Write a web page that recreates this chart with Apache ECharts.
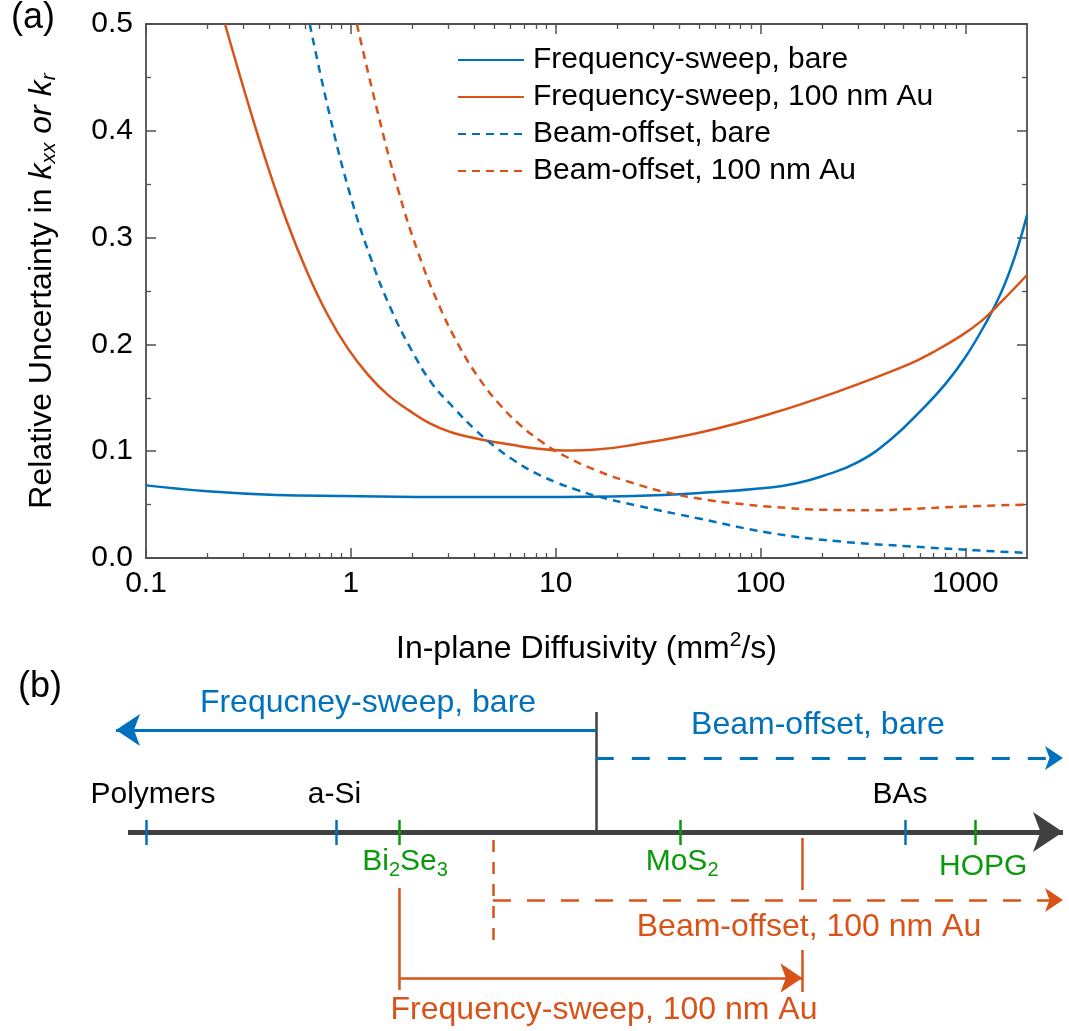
<!DOCTYPE html>
<html>
<head>
<meta charset="utf-8">
<script src="https://cdn.jsdelivr.net/npm/echarts@6/dist/echarts.min.js"></script>
<style>html,body{margin:0;padding:0;background:#fff}#c{width:1069px;height:1031px}</style>
</head>
<body>
<div id="c"></div>
<script>
// ===== DATA (a): [in-plane diffusivity (mm^2/s), relative uncertainty] =====
const seriesNames = ['Frequency-sweep, bare', 'Frequency-sweep, 100 nm Au', 'Beam-offset, bare', 'Beam-offset, 100 nm Au'];
const freqSweepBare = [[0.1,0.068],[0.2,0.0625],[0.43,0.059],[0.93,0.058],[3,0.057],[8,0.057],[24,0.058],[52,0.061],[112,0.066],[150,0.070],[200,0.0766],[294,0.089],[432,0.111],[636,0.142],[800,0.163],[1000,0.188],[1250,0.219],[1500,0.249],[1750,0.283],[2000,0.321]];
const freqSweepAu = [[0.243,0.5],[0.306,0.434],[0.385,0.372],[0.485,0.316],[0.611,0.268],[0.769,0.228],[0.968,0.196],[1.22,0.171],[1.53,0.152],[1.93,0.138],[2.43,0.126],[3.06,0.118],[3.85,0.113],[4.85,0.109],[6.11,0.106],[7.69,0.103],[11,0.1006],[15.8,0.1015],[24,0.106],[52,0.118],[112,0.135],[240,0.156],[525,0.181],[700,0.193],[933,0.207],[1200,0.222],[1500,0.240],[2000,0.265]];
const beamOffsetBare = [[0.63,0.5],[0.79,0.414],[1.0,0.338],[1.26,0.279],[1.58,0.232],[2.0,0.193],[2.5,0.163],[3.2,0.140],[4.0,0.121],[5.0,0.105],[6.3,0.091],[7.9,0.080],[10,0.071],[12.6,0.064],[15.8,0.058],[25,0.049],[50,0.037],[112,0.0234],[240,0.0156],[525,0.011],[1120,0.0072],[2000,0.0047]];
const beamOffsetAu = [[1.07,0.5],[1.35,0.418],[1.70,0.345],[2.14,0.285],[2.69,0.237],[3.39,0.198],[4.27,0.167],[5.37,0.143],[6.76,0.124],[8.51,0.109],[10.7,0.097],[15.8,0.082],[24,0.070],[34.7,0.0615],[52.5,0.055],[75.9,0.051],[112,0.048],[200,0.0452],[355,0.0447],[525,0.0458],[933,0.048],[2000,0.050]];
const xTickValues = [0.1, 1, 10, 100, 1000];
const xTickLabels = ['0.1', '1', '10', '100', '1000'];
const xMinorTickValues = [0.2,0.3,0.4,0.5,0.6,0.7,0.8,0.9,2,3,4,5,6,7,8,9,20,30,40,50,60,70,80,90,200,300,400,500,600,700,800,900];
const yTickLabels = ['0.0', '0.1', '0.2', '0.3', '0.4', '0.5'];

// ===== DATA (b): materials and measurable ranges (mm^2/s) =====
const materials = ['Polymers', 'a-Si', 'Bi2Se3', 'MoS2', 'BAs', 'HOPG'];
const materialDiffusivity = [0.1, 0.85, 1.72, 40.5, 508, 1117];
const materialIsSample = [false, false, true, true, false, true];
const rangeLabels = ['Frequcney-sweep, bare', 'Beam-offset, bare', 'Beam-offset, 100 nm Au', 'Frequency-sweep, 100 nm Au'];
const freqBareUpper = 15.7;
const beamAuLower = 4.94;
const freqAuRange = [1.72, 160];

// ===== STYLE / LAYOUT =====
const FONT = '"Liberation Sans", Arial, Helvetica, sans-serif';
const BLUE = '#0072BD', ORANGE = '#D95319', GREEN = '#0A990A', DARK = '#404040', AXIS = '#505050';
const G = { left: 146, top: 24, right: 1027, bottom: 558 };
const XMIN = 0.1, XMAX = 2000;
const PXD = (G.right - G.left) / Math.log10(XMAX / XMIN);       // px per decade
const BMIN = 0.07, BMAX = 3000;                                    // diagram (b) extent
const g2left = G.left - PXD * Math.log10(XMIN / BMIN);
const g2width = PXD * Math.log10(BMAX / BMIN);
const atPx = px => XMIN * Math.pow(10, (px - G.left) / PXD);      // layout helper (diagram only)
const ROW = { bareText: 2.3, bareArrow: 5.0, divTop: 3.2, boBareText: 4.5, boBareArrow: 7.8,
  matTop: 11.5, axis: 15.2, tickTop: 14.0, tickBot: 16.5, matBot: 18.2, hopg: 18.7,
  auDashTop: 16.0, auDashBot: 26.2, auDashArrow: 22.0, boAuText: 24.7,
  fsUpTop: 15.8, fsUpBot: 21.0, fsLowTop: 27.0, fsLowBot: 31.2, fsLeftTop: 20.8, fsLeftBot: 31.0,
  fsArrow: 29.8, fsText: 33.0 };

const tipRight = atPx(1063), tipLeft = atPx(116);

function lineSeries(name, data, color, dashed) {
  return { name, type: 'line', xAxisIndex: 0, yAxisIndex: 0, data, symbol: 'none', showSymbol: false,
    smooth: 0.45, clip: true, z: 3,
    lineStyle: { color, width: 2.5, type: dashed ? [8, 6] : 'solid' }, itemStyle: { color } };
}
function seg(x1, y1, x2, y2) { return { coords: [[x1, y1], [x2, y2]] }; }
function linesSeries(data, color, width, type, arrow) {
  return { type: 'lines', coordinateSystem: 'cartesian2d', xAxisIndex: 4, yAxisIndex: 2, silent: true,
    clip: false, data, symbol: arrow ? ['none', 'arrow'] : ['none', 'none'], symbolSize: arrow || 1,
    lineStyle: { color, width, type, opacity: 1, curveness: 0 }, z: 5 };
}
const subRich = (size, color) => ({
  n: { fontSize: size, color, fontFamily: FONT, lineHeight: 36, opacity: 1 },
  s: { fontSize: Math.round(size * 0.66), color, fontFamily: FONT, lineHeight: Math.round(size * 0.66), verticalAlign: 'bottom', opacity: 1 }
});
function chemLabel(name) {
  const m = { 'Bi2Se3': '{n|Bi}{s|2}{n|Se}{s|3}', 'MoS2': '{n|MoS}{s|2}' };
  return m[name] || ('{n|' + name + '}');
}

// diagram text items
const matOffsets = [7, -2, 6, 2, -5, 8];
const textItems = [];
materials.forEach((m, i) => {
  const below = materialIsSample[i];
  textItems.push({ value: [materialDiffusivity[i], below ? (m === 'HOPG' ? ROW.hopg : ROW.matBot) : ROW.matTop],
    label: { formatter: chemLabel(m), offset: [matOffsets[i], 0], opacity: 1, rich: subRich(30, below ? GREEN : '#000') } });
});
const rangeAnchors = [[atPx(368), ROW.bareText, BLUE], [atPx(818), ROW.boBareText, BLUE], [atPx(809), ROW.boAuText, ORANGE], [atPx(604), ROW.fsText, ORANGE]];
rangeLabels.forEach((t, i) => {
  textItems.push({ value: [rangeAnchors[i][0], rangeAnchors[i][1]],
    label: { formatter: '{n|' + t + '}', opacity: 1, rich: subRich(32, rangeAnchors[i][2]) } });
});

const tickTextStyle = { fontSize: 30, color: '#000', fontFamily: FONT };
const baseX = { type: 'log', logBase: 10, gridIndex: 0, min: XMIN, max: XMAX, splitLine: { show: false } };
const axisLineStyle = { color: AXIS, width: 1.8 };

const option = {
  animation: false,
  backgroundColor: '#fff',
  title: [
    { text: '(a)', left: 11, top: 0, padding: 0, textStyle: { fontSize: 36, fontWeight: 'normal', color: '#000', fontFamily: FONT } },
    { text: '(b)', left: 18, top: 669, padding: 0, textStyle: { fontSize: 36, fontWeight: 'normal', color: '#000', fontFamily: FONT } }
  ],
  legend: {
    data: seriesNames, orient: 'vertical', left: 457, top: 43, padding: 0, itemGap: 3,
    itemWidth: 66, itemHeight: 14, selectedMode: false,
    itemStyle: { opacity: 0 },
    textStyle: { fontSize: 30, color: '#000', fontFamily: FONT, lineHeight: 34, padding: [0, 0, 0, 4] }
  },
  grid: [
    { left: G.left, top: G.top, width: G.right - G.left, height: G.bottom - G.top, outerBoundsMode: 'none', containLabel: false },
    { left: g2left, top: 680, width: g2width, height: 350, outerBoundsMode: 'none', containLabel: false }
  ],
  xAxis: [
    Object.assign({}, baseX, { position: 'bottom',
      axisLine: { show: true, lineStyle: axisLineStyle },
      axisTick: { show: true, inside: true, length: 10, customValues: xTickValues, lineStyle: { color: AXIS, width: 1.5 } },
      axisLabel: { show: true, customValues: xTickValues, margin: 11, ...tickTextStyle,
        formatter: v => { let b = 0, d = 1e9; xTickValues.forEach((t, i) => { const e = Math.abs(Math.log10(t) - Math.log10(v)); if (e < d) { d = e; b = i; } }); return xTickLabels[b]; } },
      name: '{n|In-plane Diffusivity (mm}{p|2}{n|/s)}', nameLocation: 'middle', nameGap: 72,
      nameTextStyle: { rich: { n: { fontSize: 32, color: '#000', fontFamily: FONT, lineHeight: 38 },
        p: { fontSize: 21, color: '#000', fontFamily: FONT, lineHeight: 26, verticalAlign: 'top' } } } }),
    Object.assign({}, baseX, { position: 'bottom', axisLine: { show: false },
      axisTick: { show: true, inside: true, length: 5, customValues: xMinorTickValues, lineStyle: { color: AXIS, width: 1.3 } },
      axisLabel: { show: false } }),
    Object.assign({}, baseX, { position: 'top', axisLine: { show: true, lineStyle: axisLineStyle },
      axisTick: { show: true, inside: true, length: 10, customValues: xTickValues, lineStyle: { color: AXIS, width: 1.5 } },
      axisLabel: { show: false } }),
    Object.assign({}, baseX, { position: 'top', axisLine: { show: false },
      axisTick: { show: true, inside: true, length: 5, customValues: xMinorTickValues, lineStyle: { color: AXIS, width: 1.3 } },
      axisLabel: { show: false } }),
    { type: 'log', logBase: 10, gridIndex: 1, min: BMIN, max: BMAX, show: false }
  ],
  yAxis: [
    { type: 'value', gridIndex: 0, position: 'left', min: 0, max: 0.5, interval: 0.1,
      axisLine: { show: true, lineStyle: axisLineStyle }, splitLine: { show: false },
      axisTick: { show: true, inside: true, length: 10, lineStyle: { color: AXIS, width: 1.5 } },
      minorTick: { show: true, splitNumber: 2, length: 5, lineStyle: { color: AXIS, width: 1.3 } },
      axisLabel: { margin: 13, ...tickTextStyle, formatter: v => yTickLabels[Math.round(v * 10)] },
      name: '{n|Relative Uncertainty in }{i|k}{s|xx}{i| or k}{s|r}', nameLocation: 'middle', nameGap: 86,
      nameTextStyle: { rich: {
        n: { fontSize: 32, color: '#000', fontFamily: FONT, lineHeight: 36 },
        i: { fontSize: 32, color: '#000', fontFamily: FONT, fontStyle: 'italic', lineHeight: 36 },
        s: { fontSize: 21, color: '#000', fontFamily: FONT, fontStyle: 'italic', lineHeight: 21, verticalAlign: 'bottom' } } } },
    { type: 'value', gridIndex: 0, position: 'right', min: 0, max: 0.5, interval: 0.1,
      axisLine: { show: true, lineStyle: axisLineStyle }, splitLine: { show: false },
      axisTick: { show: true, inside: true, length: 10, lineStyle: { color: AXIS, width: 1.5 } },
      minorTick: { show: true, splitNumber: 2, length: 5, lineStyle: { color: AXIS, width: 1.3 } },
      axisLabel: { show: false } },
    { type: 'value', gridIndex: 1, min: 0, max: 35, inverse: true, show: false }
  ],
  series: [
    lineSeries(seriesNames[0], freqSweepBare, BLUE, false),
    lineSeries(seriesNames[1], freqSweepAu, ORANGE, false),
    lineSeries(seriesNames[2], beamOffsetBare, BLUE, true),
    lineSeries(seriesNames[3], beamOffsetAu, ORANGE, true),
    // (b) main diffusivity axis
    linesSeries([seg(atPx(128), ROW.axis, tipRight, ROW.axis)], DARK, 5, 'solid', 30),
    // divider between frequency-sweep and beam-offset (bare)
    linesSeries([seg(freqBareUpper, ROW.divTop, freqBareUpper, ROW.axis)], DARK, 2.5, 'solid', 0),
    // bare ranges
    linesSeries([seg(freqBareUpper, ROW.bareArrow, tipLeft, ROW.bareArrow)], BLUE, 3, 'solid', 24),
    linesSeries([seg(freqBareUpper, ROW.boBareArrow, tipRight, ROW.boBareArrow)], BLUE, 3, [18, 18], 18),
    // Au beam-offset range
    linesSeries([seg(beamAuLower, ROW.auDashTop, beamAuLower, ROW.auDashBot)], ORANGE, 2.5, [12, 10], 0),
    linesSeries([seg(beamAuLower, ROW.auDashArrow, tipRight, ROW.auDashArrow)], ORANGE, 2.5, [18, 16], 18),
    // Au frequency-sweep range
    linesSeries([seg(freqAuRange[1], ROW.fsUpTop, freqAuRange[1], ROW.fsUpBot),
                 seg(freqAuRange[1], ROW.fsLowTop, freqAuRange[1], ROW.fsLowBot),
                 seg(freqAuRange[0], ROW.fsLeftTop, freqAuRange[0], ROW.fsLeftBot)], ORANGE, 2.5, 'solid', 0),
    linesSeries([seg(freqAuRange[0], ROW.fsArrow, freqAuRange[1], ROW.fsArrow)], ORANGE, 2.5, 'solid', 22),
    // material ticks
    linesSeries(materials.map((m, i) => Object.assign(seg(materialDiffusivity[i], ROW.tickTop, materialDiffusivity[i], ROW.tickBot),
      { lineStyle: { color: materialIsSample[i] ? GREEN : BLUE } })), BLUE, 2.5, 'solid', 0),
    // text labels
    { type: 'scatter', xAxisIndex: 4, yAxisIndex: 2, silent: true, symbolSize: 1, itemStyle: { color: 'rgba(0,0,0,0)', opacity: 1 }, z: 6,
      label: { show: true, position: 'inside', align: 'center', verticalAlign: 'middle', opacity: 1 }, data: textItems }
  ]
};

const chart = echarts.init(document.getElementById('c'), null, { renderer: 'canvas', width: 1069, height: 1031 });
chart.setOption(option);
</script>
</body>
</html>
